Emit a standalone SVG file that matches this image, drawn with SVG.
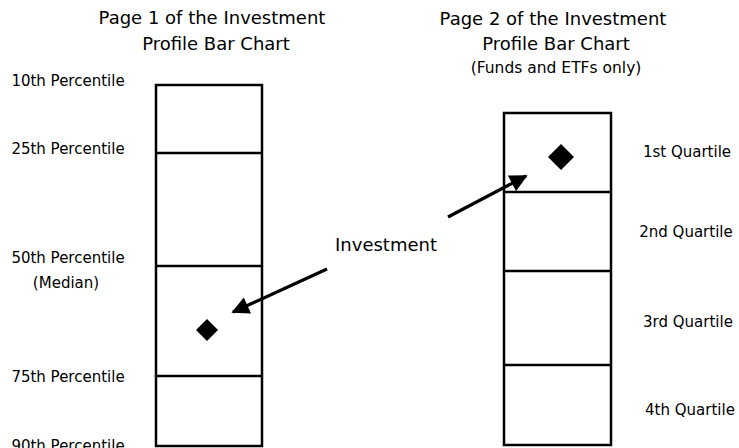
<svg xmlns="http://www.w3.org/2000/svg" width="739" height="448" viewBox="0 0 739 448">
<defs>
<style>
text{font-family:"DejaVu Sans","Verdana",sans-serif;font-size:15px;fill:#000}
.m{text-anchor:middle}
.t{font-size:18px}
.s{font-size:15.5px}
.bar{fill:#fff;stroke:#000;stroke-width:2.5}
.div{stroke:#000;stroke-width:2.5}
.conn{stroke:#000;stroke-width:3.2;fill:none}
</style>
<marker id="ah" viewBox="0 0 10 10" refX="9" refY="5" markerWidth="6" markerHeight="5.5" orient="auto" markerUnits="strokeWidth">
<path d="M0,0 L10,5 L0,10 z" fill="#000"/>
</marker>
</defs>
<rect width="739" height="448" fill="#fff"/>
<g id="title1">
<text class="m t" x="212" y="24">Page 1 of the Investment</text>
<text class="m t" x="216" y="50">Profile Bar Chart</text>
</g>
<g id="title2">
<text class="m t" x="553" y="25">Page 2 of the Investment</text>
<text class="m t" x="556" y="50">Profile Bar Chart</text>
<text class="m s" x="556" y="73">(Funds and ETFs only)</text>
</g>
<g id="bar1">
<rect class="bar" x="156" y="85" width="106" height="361"/>
<line class="div" x1="156" y1="153" x2="262" y2="153"/>
<line class="div" x1="156" y1="266" x2="262" y2="266"/>
<line class="div" x1="156" y1="376" x2="262" y2="376"/>
<path d="M207,319 L218,330 L207,341 L196,330 z" fill="#000"/>
</g>
<g id="bar2">
<rect class="bar" x="504" y="113" width="107" height="332"/>
<line class="div" x1="504" y1="192" x2="611" y2="192"/>
<line class="div" x1="504" y1="271" x2="611" y2="271"/>
<line class="div" x1="504" y1="365" x2="611" y2="365"/>
<path d="M561,144 L574,157 L561,170 L548,157 z" fill="#000"/>
</g>
<g id="labels1">
<text class="m" x="68" y="86">10th Percentile</text>
<text class="m" x="68" y="154">25th Percentile</text>
<text class="m" x="68" y="263">50th Percentile</text>
<text class="m" x="66" y="288">(Median)</text>
<text class="m" x="68" y="382">75th Percentile</text>
<text class="m" x="68" y="451">90th Percentile</text>
</g>
<g id="labels2">
<text class="m" x="687" y="157">1st Quartile</text>
<text class="m" x="686" y="237">2nd Quartile</text>
<text class="m" x="688" y="327">3rd Quartile</text>
<text class="m" x="690" y="415">4th Quartile</text>
</g>
<g id="investment">
<text class="m t" x="386" y="251">Investment</text>
</g>
<g id="connectors">
<line class="conn" x1="327" y1="269" x2="233" y2="312" marker-end="url(#ah)"/>
<line class="conn" x1="448" y1="217" x2="526" y2="176" marker-end="url(#ah)"/>
</g>
</svg>
